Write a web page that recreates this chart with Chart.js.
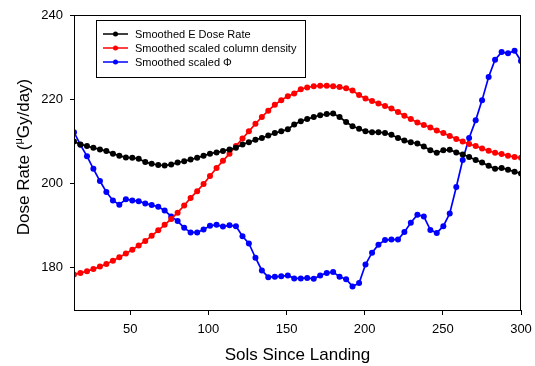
<!DOCTYPE html>
<html>
<head>
<meta charset="utf-8">
<script src="https://cdn.jsdelivr.net/npm/chart.js@4.4.1/dist/chart.umd.min.js"></script>
<style>
html,body{margin:0;padding:0;background:#fff;}
#wrap{width:535px;height:366px;position:relative;}
</style>
</head>
<body>
<div id="wrap"><canvas id="c" width="535" height="366"></canvas></div>
<script>
// Sols since landing (x positions of the smoothed samples)
const sols = [14.0,18.1,22.3,26.4,30.6,34.7,38.9,43.0,47.2,51.3,55.4,59.6,63.7,67.9,72.0,76.2,80.3,84.5,88.6,92.8,
  96.9,101.0,105.2,109.3,113.5,117.6,121.8,125.9,130.1,134.2,138.3,142.5,146.6,150.8,154.9,159.1,163.2,167.4,171.5,175.7,
  179.8,183.9,188.1,192.2,196.4,200.5,204.7,208.8,213.0,217.1,221.3,225.4,229.5,233.7,237.8,242.0,246.1,250.3,254.4,258.6,
  262.7,266.8,271.0,275.1,279.3,283.4,287.6,291.7,295.9,300.0];

const doseRate = [210.0,209.3,208.9,208.5,208.1,207.7,207.1,206.6,206.2,206.1,205.9,205.1,204.7,204.4,204.3,204.5,205.0,205.3,205.7,206.1,
  206.6,207.1,207.4,207.7,208.1,208.5,209.3,209.8,210.4,210.8,211.4,212.0,212.4,212.9,214.0,214.8,215.3,215.8,216.2,216.5,
  216.6,215.8,214.6,213.6,213.0,212.4,212.2,212.2,212.0,211.6,210.8,210.2,209.8,209.5,208.8,207.9,207.3,207.9,208.0,207.4,
  206.9,206.3,205.6,205.0,204.2,203.5,203.7,203.3,202.8,202.4];

const columnDensity = [178.4,178.8,179.2,179.7,180.3,180.9,181.7,182.5,183.4,184.3,185.3,186.4,187.6,188.9,190.2,191.6,193.1,194.8,196.6,198.2,
  199.9,201.8,203.7,205.4,207.1,208.9,210.7,212.4,214.2,215.8,217.3,218.7,219.8,220.7,221.4,222.4,222.8,223.1,223.2,223.2,
  223.1,222.9,222.6,222.1,221.0,220.2,219.6,219.0,218.4,217.8,217.0,216.1,215.3,214.5,213.9,213.3,212.6,212.0,211.3,210.6,
  210.0,209.4,208.9,208.3,207.8,207.3,207.0,206.6,206.3,206.1];

const phi = [212.2,209.2,206.5,203.5,200.6,198.0,196.0,195.0,196.3,196.0,195.8,195.3,194.9,194.5,193.6,192.2,191.1,189.5,188.4,188.4,
  189.1,190.0,190.2,189.8,190.1,189.9,187.5,185.8,182.4,179.4,177.8,177.9,178.0,178.2,177.5,177.5,177.6,177.4,178.2,178.8,
  179.0,177.9,177.3,175.6,176.4,180.8,183.6,185.5,186.6,186.7,186.7,188.5,190.7,192.6,192.2,189.0,188.3,189.9,192.9,199.2,
  205.6,210.8,215.0,219.8,225.3,229.4,231.2,230.9,231.5,229.1];

const seriesNames = ['Smoothed E Dose Rate', 'Smoothed scaled column density', 'Smoothed scaled \u03A6'];
const seriesColors = ['#000000', '#ff0000', '#0000ff'];
const xTicks = [50, 100, 150, 200, 250, 300];
const yTicks = [180, 200, 220, 240];
const xTitle = 'Sols Since Landing';

const FONT = 'Arial, "Liberation Sans", sans-serif';

function pts(vals){ return sols.map((x,i)=>({x:x, y:vals[i]})); }

const framePlugin = {
  id: 'frameLegendTitles',
  afterDatasetsDraw(chart){
    const ctx = chart.ctx, a = chart.chartArea;
    ctx.save();
    ctx.strokeStyle = '#000';
    ctx.lineWidth = 1;
    ctx.strokeRect(Math.round(a.left)+0.5, Math.round(a.top)+0.5, Math.round(a.right-a.left)-1, Math.round(a.bottom-a.top));
    // legend box
    const bx = 96.5, by = 20.5, bw = 209, bh = 57;
    ctx.fillStyle = '#fff';
    ctx.fillRect(bx, by, bw, bh);
    ctx.strokeRect(bx, by, bw, bh);
    ctx.font = '11px ' + FONT;
    ctx.textBaseline = 'middle';
    ctx.textAlign = 'left';
    chart.data.datasets.forEach((ds, i) => {
      const y = 34 + i*14;
      ctx.strokeStyle = ds.borderColor;
      ctx.lineWidth = 1.5;
      ctx.beginPath(); ctx.moveTo(103, y); ctx.lineTo(128, y); ctx.stroke();
      ctx.fillStyle = ds.borderColor;
      ctx.beginPath(); ctx.arc(115.5, y, 2.5, 0, Math.PI*2); ctx.fill();
      ctx.fillStyle = '#000';
      ctx.fillText(ds.label, 135, y + 0.5);
    });
    // axis titles
    ctx.fillStyle = '#000';
    ctx.font = '17px ' + FONT;
    ctx.textAlign = 'center';
    ctx.textBaseline = 'middle';
    ctx.fillText(xTitle, (a.left + a.right)/2, 355);
    // y title with superscript mu
    ctx.save();
    ctx.translate(29, 157);
    ctx.rotate(-Math.PI/2);
    ctx.textAlign = 'left';
    ctx.textBaseline = 'alphabetic';
    const p1 = 'Dose Rate (', p2 = '\u03BC', p3 = 'Gy/day)';
    ctx.font = '17px ' + FONT;
    const w1 = ctx.measureText(p1).width, w3 = ctx.measureText(p3).width;
    ctx.font = '11px ' + FONT;
    const w2 = ctx.measureText(p2).width;
    let x0 = -(w1 + w2 + w3)/2;
    ctx.font = '17px ' + FONT;
    ctx.fillText(p1, x0, 0);
    ctx.font = '11px ' + FONT;
    ctx.fillText(p2, x0 + w1, -7);
    ctx.font = '17px ' + FONT;
    ctx.fillText(p3, x0 + w1 + w2, 0);
    ctx.restore();
    ctx.restore();
  }
};

new Chart(document.getElementById('c'), {
  type: 'line',
  data: {
    datasets: [
      { label: seriesNames[0], data: pts(doseRate), borderColor: seriesColors[0], backgroundColor: seriesColors[0] },
      { label: seriesNames[1], data: pts(columnDensity), borderColor: seriesColors[1], backgroundColor: seriesColors[1] },
      { label: seriesNames[2], data: pts(phi), borderColor: seriesColors[2], backgroundColor: seriesColors[2] }
    ].map(d => Object.assign(d, { borderWidth: 1.7, pointRadius: 3, pointBorderWidth: 0, tension: 0, fill: false }))
  },
  options: {
    responsive: false,
    animation: false,
    events: [],
    layout: { padding: { left: 0, top: 15, right: 14, bottom: 0 } },
    plugins: { legend: { display: false }, tooltip: { enabled: false } },
    scales: {
      x: {
        type: 'linear', min: 14, max: 300,
        afterBuildTicks: s => { s.ticks = xTicks.map(v => ({value: v})); },
        afterFit: s => { s.height = 56; s.paddingLeft = 0; s.paddingRight = 0; },
        grid: { drawOnChartArea: false, drawTicks: true, tickLength: 5, color: '#000' },
        border: { display: false },
        ticks: { color: '#000', font: { family: FONT, size: 13 }, padding: 7, maxRotation: 0 }
      },
      y: {
        min: 170, max: 240,
        afterBuildTicks: s => { s.ticks = yTicks.map(v => ({value: v})); },
        afterFit: s => { s.width = 74; s.paddingTop = 0; s.paddingBottom = 0; },
        grid: { drawOnChartArea: false, drawTicks: true, tickLength: 4, color: '#000' },
        border: { display: false },
        ticks: { color: '#000', font: { family: FONT, size: 13 }, padding: 7 }
      }
    }
  },
  plugins: [framePlugin]
});
</script>
</body>
</html>
